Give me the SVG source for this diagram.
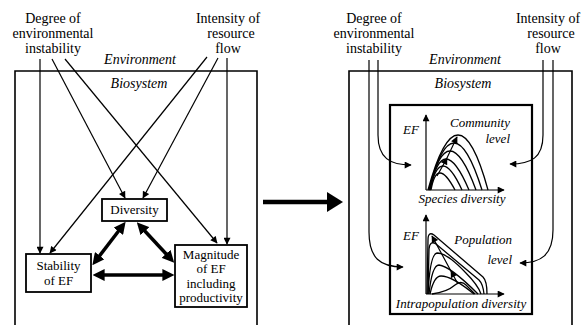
<svg xmlns="http://www.w3.org/2000/svg" width="587" height="325" viewBox="0 0 587 325" font-family="'Liberation Serif', 'DejaVu Serif', serif">
<style>
text{font-family:'Liberation Serif','Times New Roman','DejaVu Serif',serif;fill:#000}
.lbl{font-size:14px;text-anchor:middle}
.box{font-size:13px;text-anchor:middle}
.it{font-style:italic;font-size:14px;text-anchor:middle}
.its{font-style:italic;font-size:13px}
.thin{fill:none;stroke:#000;stroke-width:1.2}
.rect{fill:none;stroke:#000;stroke-width:1.6}
.nbox{fill:#fff;stroke:#000;stroke-width:1.8}
.thick{fill:none;stroke:#000;stroke-width:3.5}
.curve{fill:none;stroke:#000;stroke-width:1.3}
</style>
<defs>
<marker id="a" viewBox="0 0 10 10" refX="9" refY="5" markerWidth="9" markerHeight="7" markerUnits="userSpaceOnUse" orient="auto"><path d="M0,0 L10,5 L0,10 z"/></marker>
<marker id="m" viewBox="0 0 10 10" refX="6" refY="5" markerWidth="8" markerHeight="7" markerUnits="userSpaceOnUse" orient="auto"><path d="M0,0 L10,5 L0,10 z"/></marker>
<marker id="t" viewBox="0 0 10 10" refX="3" refY="5" markerWidth="12" markerHeight="12" markerUnits="userSpaceOnUse" orient="auto-start-reverse"><path d="M0,0 L10,5 L0,10 z"/></marker>
</defs>

<!-- Left panel -->
<g id="left-labels">
<text class="lbl" x="53" y="23">Degree of</text>
<text class="lbl" x="53" y="38">environmental</text>
<text class="lbl" x="53" y="53">instability</text>
<text class="lbl" x="228" y="23">Intensity of</text>
<text class="lbl" x="231" y="38">resource</text>
<text class="lbl" x="228" y="53">flow</text>
<text class="it" x="140" y="64">Environment</text>
<text class="it" x="139" y="88">Biosystem</text>
</g>
<g id="left-biosystem"><path class="rect" d="M15,330 V71 H257 V330"/></g>

<g id="left-connectors">
<path class="thin" d="M40,59 V253" marker-end="url(#a)"/>
<path class="thin" d="M52,59 L125,198" marker-end="url(#a)"/>
<path class="thin" d="M65,59 L217,243" marker-end="url(#a)"/>
<path class="thin" d="M207,57 L50,253" marker-end="url(#a)"/>
<path class="thin" d="M218,58 L143,198" marker-end="url(#a)"/>
<path class="thin" d="M227,58 V244" marker-end="url(#a)"/>
<path class="thick" d="M120.5,228.5 L97.5,258.5" marker-start="url(#t)" marker-end="url(#t)"/>
<path class="thick" d="M142.5,228.5 L168.5,256.5" marker-start="url(#t)" marker-end="url(#t)"/>
<path class="thick" d="M101,275 H166" marker-start="url(#t)" marker-end="url(#t)"/>
</g>

<g id="diversity">
<rect class="nbox" x="102" y="199" width="65" height="22"/>
<text class="box" x="134.5" y="214">Diversity</text>
</g>
<g id="stability">
<rect class="nbox" x="26" y="254" width="65" height="38"/>
<text class="box" x="58.5" y="270">Stability</text>
<text class="box" x="58.5" y="285">of EF</text>
</g>
<g id="magnitude">
<rect class="nbox" x="175" y="245" width="72" height="62"/>
<text class="box" x="211" y="259">Magnitude</text>
<text class="box" x="211" y="273">of EF</text>
<text class="box" x="211" y="288">including</text>
<text class="box" x="211" y="302">productivity</text>
</g>

<!-- Big arrow -->
<g id="big-arrow">
<path d="M263,202 H328" stroke="#000" stroke-width="4.5" fill="none"/>
<path d="M327,192 L343,202 L327,212 z" fill="#000"/>
</g>

<!-- Right panel -->
<g id="right-labels">
<text class="lbl" x="374" y="23">Degree of</text>
<text class="lbl" x="374" y="38">environmental</text>
<text class="lbl" x="374" y="53">instability</text>
<text class="lbl" x="548" y="23">Intensity of</text>
<text class="lbl" x="551" y="38">resource</text>
<text class="lbl" x="548" y="53">flow</text>
<text class="it" x="465" y="64">Environment</text>
<text class="it" x="463" y="88">Biosystem</text>
</g>
<g id="right-biosystem"><path class="rect" d="M349,330 V71 H572 V330"/></g>
<g id="inner-box"><rect x="390" y="105" width="142" height="209" fill="none" stroke="#000" stroke-width="2.2"/></g>

<g id="right-connectors">
<path class="thin" d="M369,60 V232 C369,258 380,267 403,267" marker-end="url(#a)"/>
<path class="thin" d="M378,60 V135 C378,158 390,165 411,165" marker-end="url(#a)"/>
<path class="thin" d="M543,60 V135 C543,158 531,164 510,164" marker-end="url(#a)"/>
<path class="thin" d="M553,60 V230 C553,255 541,263 520,263" marker-end="url(#a)"/>
</g>

<g id="community-graph">
<path class="thin" d="M426,190 V115" marker-end="url(#a)"/>
<path class="thin" d="M426,190 H504" marker-end="url(#a)"/>
<text class="its" x="403" y="134">EF</text>
<text class="its" x="510" y="127" text-anchor="end">Community</text>
<text class="its" x="510" y="143" text-anchor="end">level</text>
<text class="its" x="462" y="203" text-anchor="middle">Species diversity</text>
<path class="curve" d="M428,190 Q458,80 488,190"/>
<path class="curve" d="M429,190 Q452.5,96 482,190"/>
<path class="curve" d="M429,190 Q447.5,112 476,190"/>
<path class="curve" d="M430,190 Q442.5,128 469,190"/>
<path class="curve" d="M430,190 Q440,142 462,190"/>
<path class="curve" d="M431,190 Q437,156 455,190"/>
<path class="thin" d="M437,176 L446,160 L457,137" marker-mid="url(#m)" marker-end="url(#a)"/>
</g>

<g id="population-graph">
<path class="thin" d="M426,294 V215" marker-end="url(#a)"/>
<path class="thin" d="M426,294 H504" marker-end="url(#a)"/>
<text class="its" x="403" y="240">EF</text>
<text class="its" x="512" y="244" text-anchor="end">Population</text>
<text class="its" x="512" y="264" text-anchor="end">level</text>
<text class="its" x="461" y="308" text-anchor="middle">Intrapopulation diversity</text>
<path class="curve" d="M427,294 L428,240 Q428,231 434,235 L483,277 Q487,281 487,294"/>
<path class="curve" d="M428,294 L429,249 Q430,240 436,244 L479,280 Q483,284 484,294"/>
<path class="curve" d="M428,294 Q430,254 437,253 Q447,253 465,272 Q478,285 481,294"/>
<path class="curve" d="M429,294 Q432,265 439,265 Q450,266 478,294"/>
<path class="curve" d="M430,294 Q434,276 441,276 Q452,276 474,294"/>
<path class="curve" d="M432,294 Q447,292 455,285 Q461,280 466,285 Q471,290 475,294"/>
<path class="thin" d="M458,284 L452,273 L432,236" marker-mid="url(#m)" marker-end="url(#a)"/>
</g>
</svg>
